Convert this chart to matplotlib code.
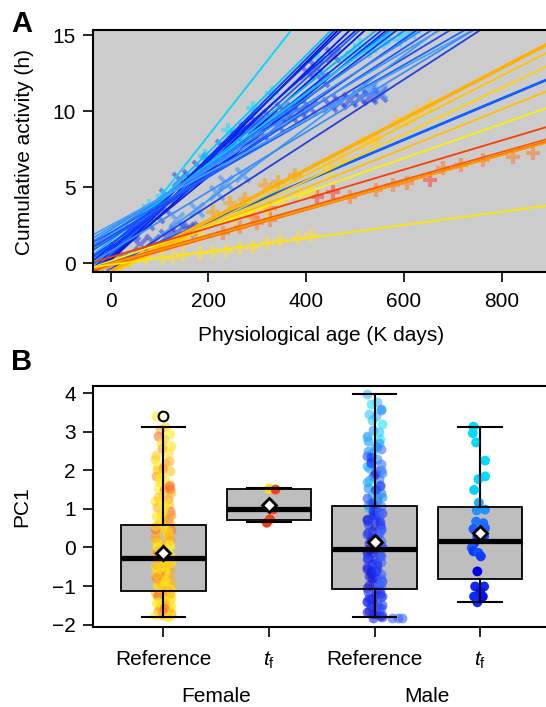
import matplotlib
matplotlib.use("Agg")
import matplotlib.pyplot as plt

plt.rcParams['font.family'] = ['Liberation Sans', 'DejaVu Sans']
plt.rcParams['mathtext.fontset'] = 'custom'
plt.rcParams['mathtext.rm'] = 'Liberation Sans'
plt.rcParams['mathtext.it'] = 'Liberation Sans:italic'

# ---------------- panel A: fitted lines ----------------
male_int = [0.23, 0.92, 0.53, 0.24, 0.78, 0.37, 1.19, 0.61, 0.22, 1.49, 0.91, 0.43, 1.26,
            1.82, 1.05, 1.98, 1.29, 2.22, 1.63, 2.37, 1.78, 2.04, 2.51, -0.6, 0.8, -0.38]
male_slope = [0.0409, 0.03195, 0.0323, 0.03246, 0.03083, 0.03059, 0.02818, 0.02892, 0.02906,
              0.02549, 0.02603, 0.02643, 0.02465, 0.02339, 0.02441, 0.02219, 0.02245, 0.02063,
              0.0209, 0.01927, 0.01953, 0.01837, 0.01732, 0.0238, 0.0196, 0.0208]
male_line_col = ['#00D8FF', '#00C8FF', '#1040FF', '#0010E0', '#0030F0', '#0020E8', '#0828FF',
                 '#1A5CFF', '#0018D8', '#00B4FF', '#0A3CFF', '#0022EE', '#1E6EFF', '#12C6FF',
                 '#0838F8', '#2A80FF', '#1848FF', '#2F8BFF', '#1E5AFF', '#3A96FF', '#1C4CF0',
                 '#1E64FF', '#42A0FF', '#3C9BFF', '#3A8CFF', '#2040E0']

fem_int = [0.04, -0.52, -0.70, -0.68, -0.17, 0.16, 0.42, 0.05, -0.03, -0.08, -0.12, 0.00, -0.08]
fem_slope = [0.0135, 0.01672, 0.01631, 0.0153, 0.01288, 0.01128, 0.00959, 0.0091, 0.0090,
             0.00905, 0.0091, 0.0089, 0.00435]
fem_line_col = ['#1060FF', '#FFB000', '#FFC400', '#FFD200', '#FFBE00', '#FFF000', '#FF3C00',
                '#FF5A00', '#FF7800', '#FF8C00', '#FF6400', '#FF9A00', '#FFE600']
fem_line_lw = [2.0, 2.6, 1.3, 1.3, 1.3, 1.3, 1.3, 1.3, 1.3, 1.3, 1.3, 1.3, 1.3]

# ---------------- panel A: observations ----------------
m_dark_x = [5, 25, 12, 46, 74, 87, 108, 115, 135, 142, 156, 162, 162, 183, 203, 230, 258, 278, 299,
            326, 353, 367, 387, 408, 401, 422, 432, 456, 449, 469, 490, 510, 531, 551, 115, 200,
            243, 307, 342, 60, 95]
m_dark_y = [0.1, 0.3, 0.89, 1.99, 2.64, 1.43, 3.74, 1.76, 1.99, 5.49, 2.2, 2.3, 5.71, 6.26, 6.81,
            7.68, 8.34, 8.78, 9.22, 9.66, 10.1, 9.77, 9.99, 10.2, 12.6, 12.85, 12.07, 13.7, 10.43,
            10.64, 10.76, 10.87, 10.97, 11.09, 4.41, 6.62, 7.5, 8.6, 9.05, 1.2, 3.1]
m_light_x = [135, 176, 217, 237, 271, 551, 531]
m_light_y = [2.86, 3.52, 4.62, 5.28, 5.82, 11.3, 11.5]
m_cyan_x = [79, 108, 162, 193, 241, 292, 330, 425, 483, 510, 541, 565, 592, 500, 530, 560, 600, 620]
m_cyan_y = [3.75, 4.41, 5.49, 7.06, 8.78, 10.21, 11.2, 13.5, 13.5, 14.37, 14.37, 14.8, 14.7, 13.9,
            14.0, 14.6, 15.1, 15.2]

f_orange_x = [210, 244, 275, 316, 343, 377]
f_orange_y = [3.41, 3.95, 4.25, 5.15, 5.38, 5.82]
f_yorange_x = [449, 473, 517, 534, 544, 585, 606, 626, 653]
f_yorange_y = [6.37, 6.81, 7.91, 8.01, 8.24, 9.33, 9.44, 9.99, 10.43]
f_ored_x = [230, 265, 299, 326, 292, 326, 490, 544, 578, 606, 681, 718, 763, 824, 865]
f_ored_y = [1.99, 2.42, 2.64, 2.86, 3.08, 3.63, 4.39, 4.84, 5.16, 5.28, 6.26, 6.48, 6.81, 7.03, 7.25]
f_red_x = [422, 456, 653]
f_red_y = [4.39, 4.72, 5.49]
f_ylow_x = [12, 40, 73, 108, 128, 149, 183, 210, 237, 265, 292, 319, 346, 384, 411]
f_ylow_y = [0.23, 0.23, 0.34, 0.34, 0.45, 0.56, 0.71, 0.78, 0.84, 1.0, 1.1, 1.33, 1.55, 1.66, 1.88]
f_ymid_x = [319, 346, 387, 408, 442, 150, 180, 250, 280, 100, 60]
f_ymid_y = [3.52, 3.96, 4.5, 4.72, 5.93, 1.5, 1.9, 2.9, 3.3, 1.1, 0.7]
f_olive_x = [5, 20]
f_olive_y = [0.12, 0.4]

# ---------------- panel B ----------------
groups = ['Reference', r'$\mathit{t}_{\mathrm{f}}$', 'Reference', r'$\mathit{t}_{\mathrm{f}}$']
box_med = [-0.27, 1.00, -0.03, 0.18]
box_q1 = [-1.14, 0.70, -1.08, -0.82]
box_q3 = [0.57, 1.51, 1.08, 1.06]
box_lo = [-1.80, 0.66, -1.81, -1.40]
box_hi = [3.13, 1.54, 3.98, 3.13]
box_mean = [-0.14, 1.09, 0.13, 0.37]
box_fliers = [[3.41], [], [], []]

fem_ref = [3.40, 3.13, 3.08, 2.95, 2.88, 2.80, 2.62, 2.58, 2.45, 2.30, 2.25, 2.10, 2.05, 1.98, 1.90,
           1.85, 1.75, 1.70, 1.62, 1.55, 1.48, 1.40, 1.35, 1.25, 1.20, 1.12, 1.05, 1.00, 0.95, 0.88,
           0.82, 0.75, 0.70, 0.62, 0.58, 0.52, 0.45, 0.40, 0.35, 0.28, 0.22, 0.15, 0.10, 0.05, -0.02,
           -0.08, -0.12, -0.18, -0.22, -0.26, -0.30, -0.34, -0.38, -0.42, -0.48, -0.52, -0.57, -0.62,
           -0.66, -0.70, -0.75, -0.80, -0.84, -0.88, -0.92, -0.97, -1.02, -1.06, -1.10, -1.15, -1.20,
           -1.25, -1.30, -1.35, -1.40, -1.45, -1.50, -1.55, -1.60, -1.64, -1.68, -1.72, -1.76, -1.80,
           0.48, 0.30, 0.12, -0.05, -0.20, -0.35, -0.45, -0.60, -0.72, -0.90, -1.00, -1.12, -1.28,
           -1.48, -1.62, -1.75, 1.60, 2.00, 0.92, 0.20,
           2.70, 2.40, 2.18, 1.80, 1.52, 1.30, 1.08, 0.85, 0.65, 0.42, 0.25, 0.08, -0.10, -0.28,
           -0.40, -0.55, -0.68, -0.82, -0.95, -1.08, -1.22, -1.38, -1.52, -1.66, -1.78, 0.55, 0.32,
           0.00, -0.15, -0.32, -0.50, -0.78, -0.86, -1.04, -1.18, -1.42, -1.58, -1.70, 1.15, 0.72]
fem_tf = [1.52, 1.50, 0.99, 0.73, 0.64]
fem_tf_dx = [0.0, 0.063, 0.045, 0.01, -0.02]
fem_tf_col = ['#FFE000', '#FF3A1E', '#FF3A1E', '#FF3A1E', '#FF3A1E']

male_ref = [3.98, 3.78, 3.72, 3.58, 3.45, 3.40, 3.20, 3.05, 2.98, 2.90, 2.82, 2.75, 2.62, 2.55, 2.45,
            2.38, 2.30, 2.22, 2.15, 2.05, 1.98, 1.92, 1.85, 1.78, 1.70, 1.62, 1.55, 1.48, 1.42, 1.35,
            1.28, 1.20, 1.15, 1.08, 1.02, 0.96, 0.90, 0.84, 0.78, 0.72, 0.66, 0.60, 0.55, 0.48, 0.42,
            0.36, 0.30, 0.25, 0.18, 0.12, 0.06, 0.0, -0.03, -0.08, -0.14, -0.20, -0.26, -0.32, -0.38,
            -0.44, -0.50, -0.56, -0.62, -0.68, -0.74, -0.80, -0.86, -0.92, -0.98, -1.04, -1.10, -1.16,
            -1.22, -1.28, -1.34, -1.40, -1.46, -1.52, -1.58, -1.64, -1.70, -1.76, -1.82, 2.70, 2.10,
            1.60, 1.10, 0.80, 0.50, 0.20, -0.10, -0.40, -0.70, -1.00, -1.30, -1.60, -1.80, 0.95, 0.35,
            -0.55, -1.20, 2.50, 1.90,
            3.55, 3.30, 2.86, 2.60, 2.34, 2.00, 1.74, 1.52, 1.32, 1.12, 0.92, 0.75, 0.58, 0.40, 0.22,
            0.04, -0.12, -0.30, -0.46, -0.64, -0.82, -0.96, -1.12, -1.26, -1.44, -1.56, -1.68, -1.78,
            0.68, 0.15, -0.22, -0.78, -1.38, 1.25, 2.20, 0.45, -0.05, -0.60, -1.50, -1.72]
male_ref_side = [-1.82, -1.82, -1.82]
male_ref_side_dx = [0.17, 0.22, 0.26]
male_tf = [3.13, 2.96, 2.72, 2.25, 1.77, 1.84, 1.49, 1.16, 0.98, 0.96, 0.67, 0.63, 0.50, 0.48, 0.29,
           0.29, 0.11, -0.01, -0.10, -0.14, -0.23, -0.62, -1.01, -1.01, -1.14, -1.27, -1.27, -1.42]
male_tf_dx = [-0.063, -0.069, -0.038, 0.047, -0.016, 0.047, -0.057, -0.012, 0.047, -0.031, -0.038,
              0.031, 0.047, -0.063, -0.026, 0.038, -0.057, -0.079, -0.063, -0.016, 0.007, -0.026,
              -0.047, 0.038, 0.0, -0.057, 0.026, -0.026]
male_tf_col = ['#00DCFF', '#00DCFF', '#00DCFF', '#00DCFF', '#00DCFF', '#00DCFF', '#00D4FF',
               '#10B4FF', '#1E96FF', '#1E96FF', '#1E78FF', '#1E6EFF', '#1E64FF', '#1E5AFF',
               '#0A3CFF', '#1450FF', '#0A3CFF', '#1E5AFF', '#0A3CFF', '#1450FF', '#0A3CFF',
               '#0000E6', '#0A28FF', '#0A28FF', '#0014F0', '#0A28FF', '#0014F0', '#0A28FF']

jitter = [-0.07, 0.02, -0.035, 0.06, -0.05, 0.01, 0.075, -0.015, 0.04, -0.075, 0.05, -0.06, 0.0,
          0.065, -0.025]
fem_palette = ['#FFE61A', '#FFD21E', '#FFB428', '#FFF01E', '#FF6E32', '#FFC81E', '#FFE61A', '#FF9628']
male_hi_pal = ['#28C8FF', '#3CB4FF', '#1EE0FF', '#2896FF']
male_mid_pal = ['#2850FF', '#1E90FF', '#2030FF', '#3C78FF', '#1EB4FF']
male_lo_pal = ['#1E30FF', '#2840F0', '#1428E6', '#3C64FF', '#1E1EDC']

FS = 15

fig = plt.figure(figsize=(5.46, 7.07), dpi=100)

# ================= panel A =================
axA = fig.add_axes([93.3 / 546, 1 - 271.7 / 707, (546 - 93.3) / 546, (271.7 - 30) / 707])
axA.set_facecolor('#CCCCCC')
mk = dict(linestyle='none', ms=10.5, mew=3.0, alpha=0.55)
axA.plot(m_dark_x, m_dark_y, marker='x', color='#2A3EE8', **mk)
axA.plot(m_light_x, m_light_y, marker='x', color='#3A8CFF', **mk)
axA.plot(m_cyan_x, m_cyan_y, marker='+', color='#18D8FF', **mk)
axA.plot(f_orange_x, f_orange_y, marker='+', color='#FFA000', **mk)
axA.plot(f_yorange_x, f_yorange_y, marker='+', color='#FFC830', **mk)
axA.plot(f_ored_x, f_ored_y, marker='+', color='#FF7A30', **mk)
axA.plot(f_red_x, f_red_y, marker='+', color='#FF4030', **mk)
axA.plot(f_ylow_x, f_ylow_y, marker='+', color='#FFE040', **mk)
axA.plot(f_ymid_x, f_ymid_y, marker='+', color='#FFE030', **mk)
axA.plot(f_olive_x, f_olive_y, marker='+', color='#B8A860', **mk)

for b, s, c in zip(male_int, male_slope, male_line_col):
    axA.axline((0, b), slope=s, color=c, lw=1.3)
for b, s, c, w in zip(fem_int, fem_slope, fem_line_col, fem_line_lw):
    axA.axline((0, b), slope=s, color=c, lw=w)

axA.set_xlim(-35.6, 891)
axA.set_ylim(-0.54, 15.36)
axA.set_xticks([0, 200, 400, 600, 800])
axA.set_yticks([0, 5, 10, 15])
axA.spines['right'].set_visible(False)
for sp in ['left', 'bottom', 'top']:
    axA.spines[sp].set_linewidth(1.5)
axA.tick_params(direction='out', length=7.5, width=1.2, labelsize=FS)
axA.tick_params(axis='x', pad=7)
axA.tick_params(axis='y', pad=5)

fig.text(321 / 546, 1 - 341 / 707, 'Physiological age (K days)', fontsize=FS,
         ha='center', va='baseline')
fig.text(24 / 546, 1 - 152 / 707, 'Cumulative activity (h)', fontsize=FS,
         rotation=90, ha='center', va='center')
fig.text(22 / 546, 1 - 24 / 707, 'A', fontsize=21, fontweight='bold', ha='center', va='center')

# ================= panel B =================
axB = fig.add_axes([93.3 / 546, 1 - 627 / 707, (546 - 93.3) / 546, (627 - 385.7) / 707])
pos = [1, 2, 3, 4]
stats = []
for i in range(4):
    stats.append(dict(med=box_med[i], q1=box_q1[i], q3=box_q3[i], whislo=box_lo[i],
                      whishi=box_hi[i], mean=box_mean[i], fliers=box_fliers[i]))

# box fill underneath the points
axB.bxp(stats, positions=pos, widths=0.8, patch_artist=True, showcaps=False, showfliers=False,
        boxprops=dict(facecolor='#BEBEBE', edgecolor='none'),
        whiskerprops=dict(visible=False), medianprops=dict(visible=False), zorder=1)

for i, v in enumerate(fem_ref):
    axB.scatter(1 + jitter[i % len(jitter)], v, s=50, color=fem_palette[i % len(fem_palette)],
                alpha=0.6, lw=0, zorder=2)
for i, v in enumerate(male_ref):
    if v > 2.6:
        pal = male_hi_pal
    elif v > 1.0:
        pal = male_mid_pal
    else:
        pal = male_lo_pal
    axB.scatter(3 + jitter[i % len(jitter)], v, s=50, color=pal[i % len(pal)],
                alpha=0.6, lw=0, zorder=2)
axB.scatter([3 + d for d in male_ref_side_dx], male_ref_side, s=50, color='#3C64FF',
            alpha=0.6, lw=0, zorder=2)
axB.scatter([2 + d for d in fem_tf_dx], fem_tf, s=50, c=fem_tf_col, lw=0, zorder=2)
axB.scatter([4 + d for d in male_tf_dx], male_tf, s=50, c=male_tf_col, lw=0, zorder=2)

axB.bxp(stats, positions=pos, widths=0.8, patch_artist=True, showmeans=True, capwidths=0.41,
        boxprops=dict(facecolor='none', edgecolor='black', lw=1.3),
        whiskerprops=dict(color='black', lw=1.5),
        capprops=dict(color='black', lw=1.5),
        medianprops=dict(color='black', lw=3.8, solid_capstyle='butt'),
        meanprops=dict(marker='D', mfc='white', mec='black', mew=2, ms=7.5),
        flierprops=dict(marker='o', mfc='none', mec='black', mew=1.5, ms=7),
        zorder=3)

axB.set_xlim(0.337, 4.624)
axB.set_ylim(-2.06, 4.19)
axB.set_yticks([-2, -1, 0, 1, 2, 3, 4])
axB.set_xticks(pos)
axB.set_xticklabels(groups)
axB.spines['right'].set_visible(False)
for sp in ['left', 'bottom', 'top']:
    axB.spines[sp].set_linewidth(1.5)
axB.tick_params(direction='out', length=7.5, width=1.2, labelsize=FS)
axB.tick_params(axis='x', pad=9)
axB.tick_params(axis='y', pad=5)

fig.text(22 / 546, 1 - 507 / 707, 'PC1', fontsize=FS, rotation=90, ha='center', va='center')
fig.text(216 / 546, 1 - 697 / 707, 'Female', fontsize=FS, ha='center', va='center')
fig.text(427 / 546, 1 - 697 / 707, 'Male', fontsize=FS, ha='center', va='center')
fig.text(22 / 546, 1 - 362 / 707, 'B', fontsize=21, fontweight='bold', ha='center', va='center')

fig.savefig('out.png', dpi=100)
